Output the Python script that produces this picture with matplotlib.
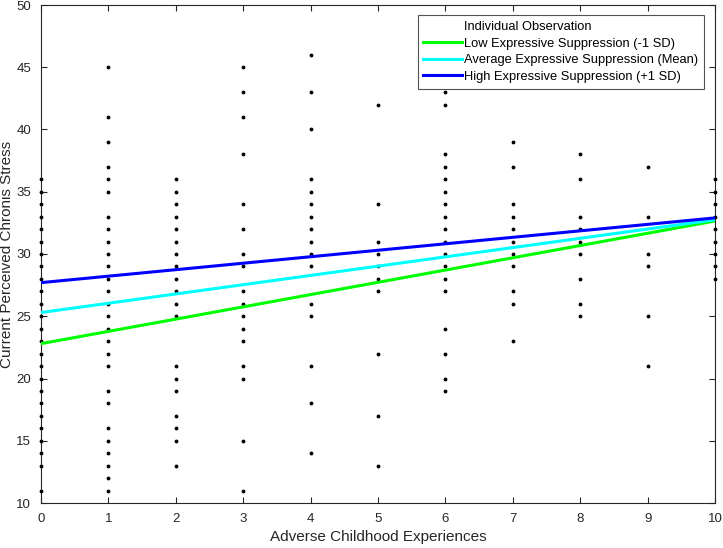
import matplotlib
matplotlib.use("Agg")
import matplotlib.pyplot as plt

plt.rcParams['font.family'] = ['Liberation Sans', 'DejaVu Sans']

# Individual observations: stress values per ACE count
obs = {
    0: [36, 35, 34, 33, 32, 31, 30, 29, 28, 27, 26, 25, 24, 23, 22, 21, 20, 19, 18, 17, 16, 15, 14, 13, 11],
    1: [45, 41, 39, 37, 36, 35, 33, 32, 31, 30, 29, 28, 27, 26, 25, 24, 23, 22, 21, 19, 18, 16, 15, 14, 13, 12, 11],
    2: [36, 35, 34, 33, 32, 31, 30, 29, 28, 27, 26, 25, 21, 20, 19, 17, 16, 15, 13],
    3: [45, 43, 41, 38, 34, 32, 30, 29, 27, 26, 25, 24, 23, 21, 20, 15, 11],
    4: [46, 43, 40, 36, 35, 34, 33, 32, 31, 30, 29, 26, 25, 21, 18, 14],
    5: [42, 34, 31, 30, 29, 28, 27, 22, 17, 13],
    6: [43, 42, 38, 37, 36, 35, 34, 33, 32, 31, 30, 29, 28, 27, 24, 22, 20, 19],
    7: [39, 37, 34, 33, 32, 31, 30, 29, 27, 26, 23],
    8: [38, 36, 33, 32, 31, 30, 28, 26, 25],
    9: [37, 33, 30, 29, 25, 21],
    10: [36, 35, 34, 33, 32, 31, 30, 29, 28],
}

line_x = [0, 10]
low_y = [22.8, 32.65]
avg_y = [25.3, 32.75]
high_y = [27.7, 32.9]

labels = ["Individual Observation",
          "Low Expressive Suppression (-1 SD)",
          "Average Expressive Suppression (Mean)",
          "High Expressive Suppression (+1 SD)"]

xs, ys = [], []
for k, vals in obs.items():
    for v in vals:
        xs.append(k)
        ys.append(v)

fig = plt.figure(figsize=(7.23, 5.48), dpi=100)
ax = fig.add_axes([41/723, 1 - 503/548, (715 - 41)/723, (503 - 5)/548])

ax.plot(xs, ys, linestyle='none', marker='.', color='black', markersize=3.5, label=labels[0], clip_on=False, zorder=3)
ax.plot(line_x, low_y, color=(0, 1, 0), lw=2.2, label=labels[1], zorder=4)
ax.plot(line_x, avg_y, color=(0, 1, 1), lw=2.2, label=labels[2], zorder=4)
ax.plot(line_x, high_y, color=(0, 0, 1), lw=2.2, label=labels[3], zorder=4)

ax.set_xlim(0, 10)
ax.set_ylim(10, 50)
ax.set_xticks(range(0, 11))
ax.set_yticks(range(10, 51, 5))
ax.tick_params(direction='in', top=True, right=True, labelsize=9.5, length=4, width=0.8,
               colors='#262626', pad=7)
for s in ax.spines.values():
    s.set_linewidth(0.8)
    s.set_color('#262626')

ax.set_xlabel("Adverse Childhood Experiences", fontsize=11, color='#262626', labelpad=4)
ax.set_ylabel("Current Perceived Chronis Stress", fontsize=11, color='#262626', labelpad=2)

leg = ax.legend(loc='upper right', bbox_to_anchor=(704/723, 1 - 15/548), bbox_transform=fig.transFigure,
                fontsize=9.3, frameon=True, fancybox=False, edgecolor='#262626',
                handlelength=3.0, handletextpad=0.15, borderpad=0.45, labelspacing=0.36,
                borderaxespad=0)
leg.get_frame().set_linewidth(0.8)
leg.legend_handles[0].set_markersize(0)

fig.savefig("out.png", dpi=100)
